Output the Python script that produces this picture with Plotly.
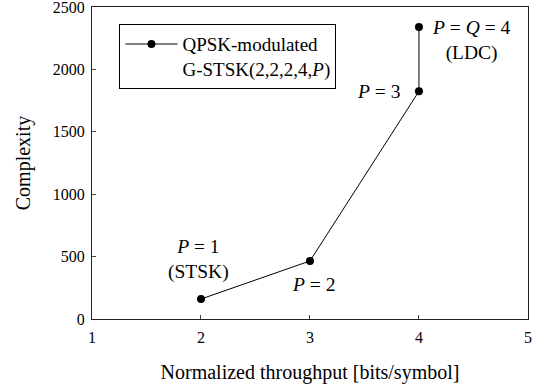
import plotly.graph_objects as go

throughput = [2, 3, 4, 4]
complexity = [160, 465, 1825, 2340]
series_name = "QPSK-modulated<br>G-STSK(2,2,2,4,<i>P</i>)"
x_ticks = [1, 2, 3, 4, 5]
y_ticks = [0, 500, 1000, 1500, 2000, 2500]

FONT = "Times New Roman, Liberation Serif, DejaVu Serif, serif"

fig = go.Figure()
fig.add_trace(go.Scatter(
    x=throughput, y=complexity, mode="lines+markers", name=series_name,
    line=dict(color="black", width=1), marker=dict(color="black", size=8),
    showlegend=True,
))

labels = [
    (2, 160, "<i>P</i> = 1<br>(STSK)", -2, -40),
    (3, 465, "<i>P</i> = 2", 4, 24),
    (4, 1825, "<i>P</i> = 3", -40, 0),
    (4, 2340, "<i>P</i> = <i>Q</i> = 4<br>(LDC)", 53, 13),
]
for x, y, t, ax, ay in labels:
    fig.add_annotation(x=x, y=y, text=t, showarrow=False, xshift=ax, yshift=-ay,
                       font=dict(family=FONT, size=19.5, color="black"))

fig.update_layout(
    width=537, height=390,
    margin=dict(l=92, r=9, t=7, b=71, autoexpand=False),
    paper_bgcolor="white", plot_bgcolor="white",
    font=dict(family=FONT, size=16.5, color="black"),
    legend=dict(x=0.063, y=0.945, xanchor="left", yanchor="top",
                bordercolor="black", borderwidth=1, bgcolor="white",
                font=dict(family=FONT, size=19), valign="top", itemwidth=52),
    xaxis=dict(range=[1, 5.0005], tickvals=x_ticks, ticks="inside", ticklen=4,
               showline=True, linecolor="#222", mirror=True, showgrid=False,
               zeroline=False, automargin=False, ticklabeloverflow="allow",
               tickfont=dict(size=16), ticklabelstandoff=4,
               title=dict(text="Normalized throughput [bits/symbol]", standoff=19)),
    yaxis=dict(range=[0, 2500.3], tickvals=y_ticks, ticks="inside", ticklen=4,
               showline=True, linecolor="#222", mirror=True, showgrid=False,
               zeroline=False, automargin=False, ticklabeloverflow="allow",
               tickfont=dict(size=16), ticklabelstandoff=3,
               title=dict(text="Complexity", standoff=16)),
)
fig.write_html("out.html", config={"displayModeBar": False},
               post_script="document.body.style.margin='0';document.body.style.padding='0';")
